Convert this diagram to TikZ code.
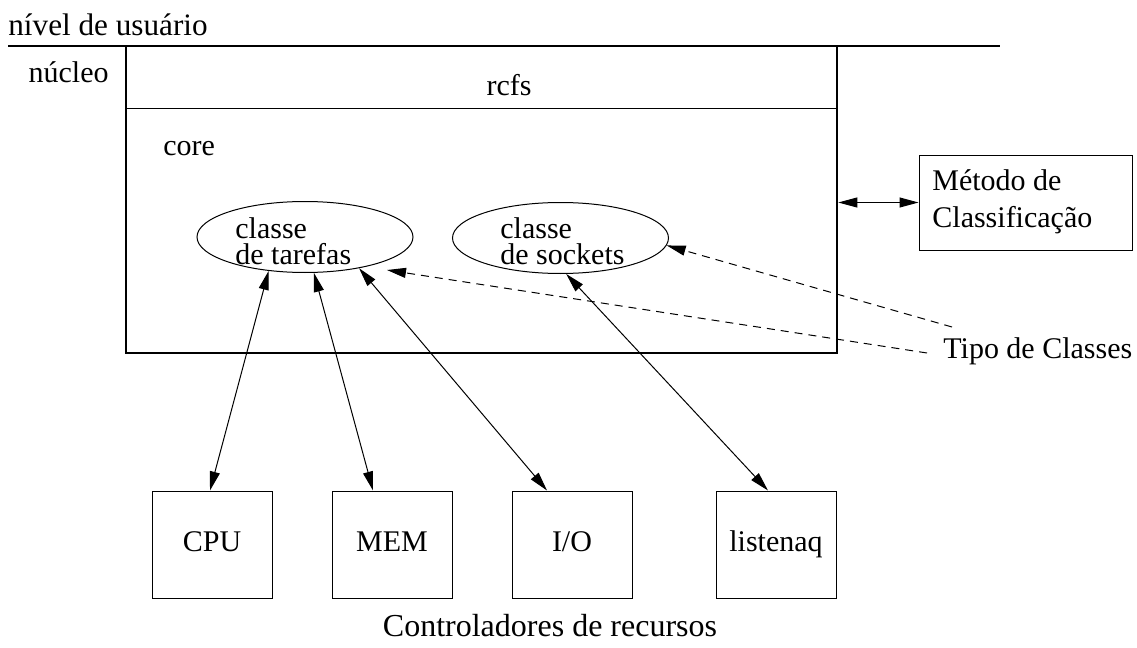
\documentclass[tikz,border=0pt]{standalone}
\usepackage{fontspec}
\setmainfont{Liberation Serif}
\usetikzlibrary{arrows.meta,shapes.geometric,calc}
\begin{document}
\begin{tikzpicture}[x=0.5pt,y=-0.5pt,
  txt/.style={font=\fontsize{15pt}{18pt}\selectfont, inner sep=0pt},
  twoline/.style={txt, anchor=base west, align=left, font=\fontsize{15pt}{13pt}\selectfont},
  thinln/.style={line width=0.5pt},
  boldln/.style={line width=1.3pt},
  headarrow/.style={thinln,-{Triangle[length=9.5pt,width=5pt]}},
  bidir/.style={thinln,{Triangle[length=9.5pt,width=5pt]}-{Triangle[length=9.5pt,width=5pt]}},
  dasharrow/.style={headarrow, dash pattern=on 4pt off 3pt},
  classell/.style={ellipse, draw, thinln, minimum width=108pt, minimum height=35.5pt, inner sep=0pt},
  ctrlbox/.style={draw, thinln, txt, text height=10pt, text depth=3.5pt, minimum width=60pt, minimum height=53.5pt},
]
\useasboundingbox (0,0) rectangle (1137,648);

% user / kernel boundary
\draw[line width=1.2pt] (8,46) -- (1000,46);
\node[txt, anchor=base west, font=\fontsize{15.6pt}{18pt}\selectfont] (user) at (8,35) {nível de usuário};
\node[txt, anchor=base east] (kernlbl) at (109,83) {núcleo};

% kernel box with the rcfs strip
\node[draw, boldln, minimum width=355.5pt, minimum height=153.5pt, inner sep=0pt] (kern) at (481.5,199.5) {};
\draw[thinln] (126,108) -- (837,108);
\node[txt, anchor=base] (rcfs) at (509,95) {rcfs};
\node[txt, anchor=base west] (core) at (163,155) {core};

% classes (the base anchor of a two-line node sits on its last line)
\node[classell] (tar) at (305,237) {};
\node[twoline] (tartxt) at (235,264) {classe\\de tarefas};
\node[classell] (soc) at (560.5,238) {};
\node[twoline] (soctxt) at (500,264) {classe\\de sockets};

% classification method
\node[draw, thinln, minimum width=106.5pt, minimum height=47.5pt, inner sep=0pt] (met) at (1025.5,202.5) {};
\node[txt, anchor=base west, align=left, font=\fontsize{15pt}{18.5pt}\selectfont] (mettxt) at (932,227) {Método de\\Classificação};
\draw[bidir] (met.west) -- (met.west -| kern.east);

% class types
\node[txt, anchor=base west] (tipo) at (943,358) {Tipo de Classes};
\coordinate (tA) at (952,327);
\coordinate (tB) at (927,353);
\coordinate (tipT) at (387,270);
\draw[dasharrow] (tA) -- (soc.356.3);
\draw[dasharrow] (tB) -- (tipT);

% resource controllers
\node[ctrlbox] (cpu) at (212,544.5) {CPU};
\node[ctrlbox] (mem) at (392,544.5) {MEM};
\node[ctrlbox] (io) at (572,544.5) {I/O};
\node[ctrlbox] (lq) at (776,544.5) {listenaq};
\node[txt, anchor=base, font=\fontsize{16pt}{18pt}\selectfont] (ctrl) at (550,636) {Controladores de recursos};

\draw[bidir] (tar.223.4) -- ($(cpu.north)+(-2,0)$);
\draw[bidir] (tar.284.7) -- ($(mem.north)+(-19,0)$);
\draw[bidir] (tar.330.5) -- ($(io.north)+(-25,0)$);
\draw[bidir] (soc.279.7) -- ($(lq.north)+(-8,0)$);
\end{tikzpicture}
\end{document}
